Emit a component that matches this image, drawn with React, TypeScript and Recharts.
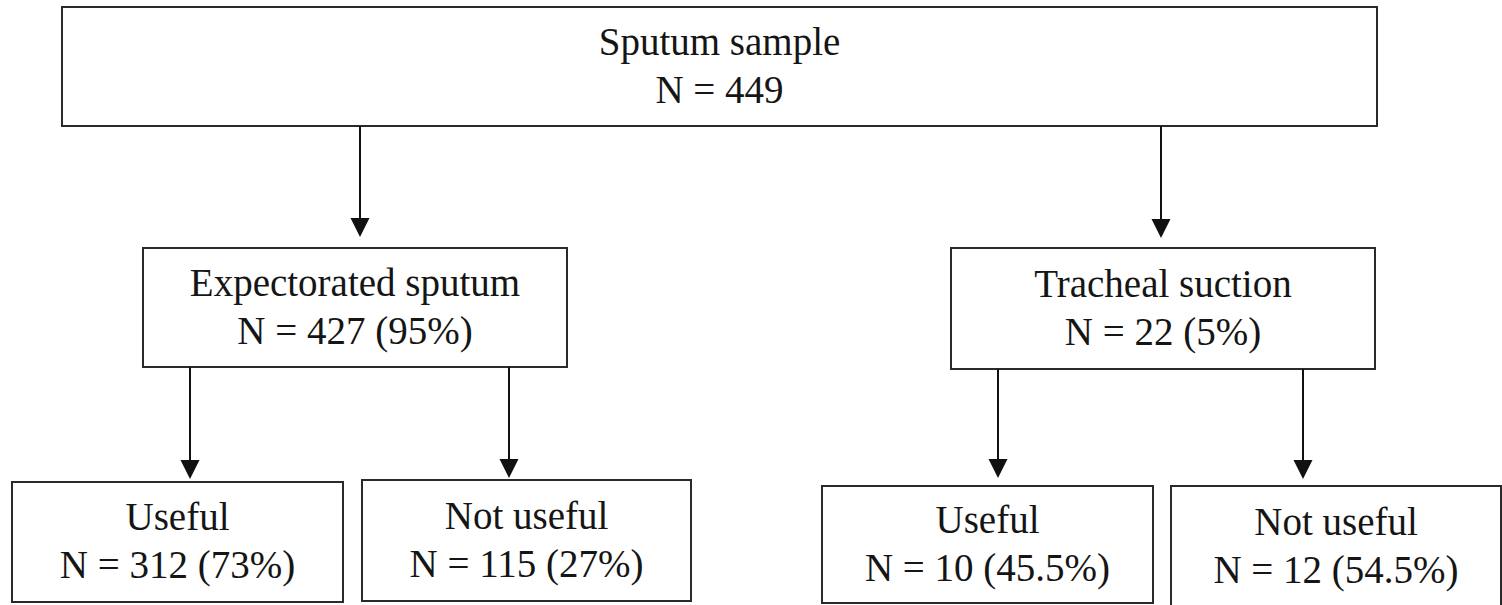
import React from 'react';
import {
  ScatterChart,
  Scatter,
  XAxis,
  YAxis,
  ReferenceArea,
  ReferenceLine,
} from 'recharts';

// node content
const titles = [
  'Sputum sample',
  'Expectorated sputum',
  'Tracheal suction',
  'Useful',
  'Not useful',
  'Useful',
  'Not useful',
];
const counts = [449, 427, 22, 312, 115, 10, 12];
const percents = ['', '95%', '5%', '73%', '27%', '45.5%', '54.5%'];
const parents = [-1, 0, 0, 1, 1, 2, 2];

// layout (chart units = px of the 1502x605 canvas)
const boxLeft = [62, 143, 951, 12, 362, 822, 1171];
const boxRight = [1377, 567, 1375, 343, 691, 1153, 1501];
const boxTop = [7, 248, 248, 482, 480, 486, 486];
const boxBottom = [126, 367, 369, 602, 601, 603, 607];
const arrowX = [0, 360, 1161, 190, 509, 998, 1303];
const arrowTip = [0, 237, 238, 479, 478, 478, 479];

const W = 1502;
const H = 605;
const FONT = '"Liberation Serif", "Times New Roman", serif';
const LINE = '#2a2a2a';
const HEAD = 19;

const nodes = titles.map((title, i) => ({
  x: (boxLeft[i] + boxRight[i]) / 2,
  y: (boxTop[i] + boxBottom[i]) / 2,
  title,
  count: `N = ${counts[i]}${percents[i] ? ` (${percents[i]})` : ''}`,
}));

const edges = parents
  .map((p, i) => ({ p, i }))
  .filter((e) => e.p >= 0)
  .map(({ p, i }) => ({
    x: arrowX[i],
    y: arrowTip[i],
    from: boxBottom[p],
  }));

const NodeText = (props: any) => {
  const { cx, cy, payload } = props;
  return (
    <g>
      <text x={cx} y={cy - 12} textAnchor="middle" fontFamily={FONT} fontSize={39} fill="#151515">
        {payload.title}
      </text>
      <text x={cx} y={cy + 36} textAnchor="middle" fontFamily={FONT} fontSize={39} fill="#151515">
        {payload.count}
      </text>
    </g>
  );
};

const ArrowHead = (props: any) => {
  const { cx, cy } = props;
  const half = HEAD / 2;
  return <path d={`M${cx - half},${cy - HEAD} L${cx + half},${cy - HEAD} L${cx},${cy} Z`} fill="#111" />;
};

export default function App() {
  return (
    <div style={{ position: 'absolute', left: 0, top: 0, width: W, height: H, background: '#fff' }}>
      <ScatterChart width={W} height={H} margin={{ top: 0, right: 0, bottom: 0, left: 0 }}>
        <XAxis type="number" dataKey="x" domain={[0, W]} allowDataOverflow hide />
        <YAxis type="number" dataKey="y" domain={[0, H]} allowDataOverflow reversed hide />

        {nodes.map((n, i) => (
          <ReferenceArea
            key={`box-${i}`}
            x1={boxLeft[i]}
            x2={boxRight[i]}
            y1={boxTop[i]}
            y2={boxBottom[i]}
            fill="none"
            fillOpacity={0}
            stroke={LINE}
            strokeWidth={2}
            ifOverflow="visible"
          />
        ))}

        {edges.map((e, i) => (
          <ReferenceLine
            key={`edge-${i}`}
            segment={[
              { x: e.x, y: e.from },
              { x: e.x, y: e.y - HEAD + 2 },
            ]}
            stroke="#111"
            strokeWidth={2}
            ifOverflow="visible"
          />
        ))}

        <Scatter data={edges} shape={ArrowHead} isAnimationActive={false} />
        <Scatter data={nodes} shape={NodeText} isAnimationActive={false} />
      </ScatterChart>
    </div>
  );
}
